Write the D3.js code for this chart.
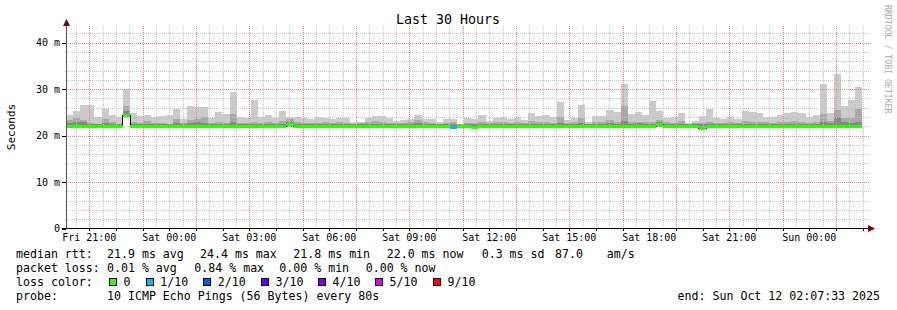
<!DOCTYPE html>
<html>
<head>
<meta charset="utf-8">
<script src="https://cdn.jsdelivr.net/npm/d3@7"></script>
<style>
  body { margin: 0; background: #fff; }
  svg { display: block; font-family: "DejaVu Sans Mono", monospace; }
</style>
</head>
<body>
<svg id="chart" width="897" height="310"></svg>
<script>
// ---- data (values in ms) ----
const endTime = new Date(2025, 9, 12, 2, 7, 33);
const stepSec = 960; // 16 min consolidated bins

const maxPing = [
  24.5, 25.3, 26.6, 26.6, 24.1, 25.7, 24.4, 23.9, 30.0, 24.8,
  24.2, 24.4, 23.9, 24.2, 24.4, 25.8, 23.5, 26.4, 26.2, 26.2,
  23.8, 25.0, 24.6, 29.4, 24.1, 23.8, 27.7, 23.9, 24.4, 23.8,
  25.3, 24.0, 23.9, 23.8, 23.5, 24.0, 23.7, 23.6, 23.7, 23.8,
  23.0, 23.0, 23.8, 24.2, 24.2, 23.8, 23.2, 23.4, 23.6, 24.4,
  23.6, 23.6, 23.0, 23.6, 23.6, 22.5, 23.8, 23.5, 24.4, 23.1,
  23.8, 24.0, 23.6, 23.8, 23.3, 24.8, 24.2, 24.4, 24.0, 27.2,
  23.3, 23.8, 26.6, 22.9, 24.3, 24.3, 25.5, 25.1, 31.1, 24.6,
  25.0, 24.4, 27.4, 25.3, 23.8, 24.0, 24.8, 22.8, 23.1, 24.2,
  25.7, 23.8, 23.5, 24.0, 23.5, 25.3, 25.1, 24.8, 24.0, 24.0,
  24.4, 24.9, 25.0, 24.9, 24.0, 24.4, 31.1, 24.9, 33.2, 26.3,
  27.6, 30.4
];
const upperPing = [
  23.4, 23.8, 23.4, 22.8, 22.6, 23.6, 23.0, 22.6, 26.4, 23.0,
  22.8, 23.2, 22.8, 22.8, 22.6, 23.6, 22.8, 23.4, 23.6, 23.9,
  22.8, 22.9, 22.8, 24.6, 22.8, 22.7, 23.0, 22.7, 22.9, 22.8,
  23.2, 23.6, 22.9, 22.8, 22.8, 22.7, 22.9, 22.8, 22.9, 22.8,
  22.6, 22.7, 23.0, 23.1, 23.0, 22.8, 22.7, 22.8, 22.9, 23.3,
  22.9, 22.8, 22.6, 22.8, 23.0, 22.4, 22.8, 22.7, 23.0, 22.7,
  22.9, 22.9, 22.8, 22.9, 22.7, 23.1, 22.9, 23.0, 22.8, 23.9,
  22.8, 22.9, 23.8, 22.6, 23.0, 23.0, 23.4, 23.0, 26.3, 23.0,
  23.0, 22.9, 23.0, 23.3, 22.9, 22.8, 23.1, 22.6, 22.7, 22.8,
  23.0, 22.8, 22.7, 22.9, 22.7, 23.1, 23.0, 22.9, 22.9, 22.8,
  22.9, 23.0, 23.1, 23.0, 22.8, 23.0, 24.6, 23.2, 25.5, 23.8,
  23.8, 25.7
];
const innerPing = [
  22.8, 23.0, 23.0, 22.5, 22.4, 22.8, 22.6, 22.4, 25.3, 22.6,
  22.5, 22.6, 22.5, 22.5, 22.4, 22.8, 22.5, 22.7, 22.9, 22.8,
  22.5, 22.6, 22.5, 22.9, 22.5, 22.4, 22.6, 22.4, 22.5, 22.5,
  22.6, 22.9, 22.5, 22.5, 22.4, 22.4, 22.5, 22.5, 22.5, 22.4,
  22.4, 22.4, 22.5, 22.6, 22.6, 22.5, 22.4, 22.5, 22.5, 22.8,
  22.5, 22.5, 22.4, 22.5, 22.6, 22.3, 22.5, 22.4, 22.6, 22.4,
  22.5, 22.5, 22.5, 22.5, 22.4, 22.6, 22.5, 22.6, 22.5, 22.8,
  22.5, 22.5, 22.7, 22.4, 22.6, 22.6, 22.7, 22.6, 23.2, 22.6,
  22.7, 22.5, 22.6, 22.9, 22.5, 22.5, 22.6, 22.4, 22.4, 22.5,
  22.6, 22.5, 22.4, 22.5, 22.4, 22.6, 22.6, 22.5, 22.5, 22.5,
  22.5, 22.6, 22.6, 22.6, 22.5, 22.6, 23.0, 22.7, 23.9, 22.9,
  22.8, 23.0
];
const minPing = [
  21.7, 21.7, 21.7, 21.7, 21.7, 21.7, 21.7, 21.7, 24.2, 21.7,
  21.7, 21.7, 21.7, 21.7, 21.7, 21.7, 21.7, 21.7, 21.7, 21.7,
  21.7, 21.7, 21.7, 21.7, 21.7, 21.7, 21.7, 21.7, 21.7, 21.7,
  21.7, 21.8, 21.7, 21.7, 21.7, 21.7, 21.7, 21.7, 21.7, 21.7,
  21.7, 21.7, 21.7, 21.7, 21.7, 21.7, 21.7, 21.7, 21.7, 21.7,
  21.7, 21.7, 21.7, 21.7, 21.7, 21.7, 21.7, 21.6, 21.7, 21.7,
  21.7, 21.7, 21.7, 21.7, 21.7, 21.7, 21.7, 21.7, 21.7, 21.7,
  21.7, 21.7, 21.7, 21.7, 21.7, 21.7, 21.7, 21.7, 21.7, 21.7,
  21.7, 21.7, 21.7, 21.8, 21.7, 21.7, 21.7, 21.7, 21.7, 21.6,
  21.7, 21.7, 21.7, 21.7, 21.7, 21.7, 21.7, 21.7, 21.7, 21.7,
  21.7, 21.7, 21.7, 21.7, 21.7, 21.7, 21.7, 21.7, 21.7, 21.7,
  21.7, 21.7
];
const medianPing = [
  22.0, 22.0, 22.0, 22.0, 22.0, 22.0, 22.0, 22.0, 24.5, 22.0,
  22.0, 22.0, 22.0, 22.0, 22.0, 22.0, 22.0, 22.0, 22.0, 22.0,
  22.0, 22.0, 22.0, 22.0, 22.0, 22.0, 22.0, 22.0, 22.0, 22.0,
  22.0, 22.6, 22.0, 22.0, 22.0, 22.0, 22.0, 22.0, 22.0, 22.0,
  22.0, 22.0, 22.0, 22.0, 22.0, 22.0, 22.0, 22.0, 22.0, 22.0,
  22.0, 22.0, 22.0, 22.0, 21.9, 22.0, 22.0, 21.8, 22.0, 22.0,
  22.0, 22.0, 22.0, 22.0, 22.0, 22.0, 22.0, 22.0, 22.0, 22.0,
  22.0, 22.0, 22.0, 22.0, 22.0, 22.0, 22.0, 22.0, 22.0, 22.0,
  22.0, 22.0, 22.0, 22.5, 22.0, 22.0, 22.0, 22.0, 22.0, 21.7,
  22.0, 22.0, 22.0, 22.0, 22.0, 22.0, 22.0, 22.0, 22.0, 22.0,
  22.0, 22.0, 22.0, 22.0, 22.0, 22.0, 22.0, 22.0, 22.0, 22.0,
  22.0, 22.0
];
// lost pings out of 10 per bin
const lossCount = [
  0, 0, 0, 0, 0, 0, 0, 0, 0, 0, 0, 0, 0, 0, 0, 0, 0, 0, 0, 0,
  0, 0, 0, 0, 0, 0, 0, 0, 0, 0, 0, 0, 0, 0, 0, 0, 0, 0, 0, 0,
  0, 0, 0, 0, 0, 0, 0, 0, 0, 0, 0, 0, 0, 0, 1, 0, 0, 0, 0, 0,
  0, 0, 0, 0, 0, 0, 0, 0, 0, 0, 0, 0, 0, 0, 0, 0, 0, 0, 0, 0,
  0, 0, 0, 0, 0, 0, 0, 0, 0, 0, 0, 0, 0, 0, 0, 0, 0, 0, 0, 0,
  0, 0, 0, 0, 0, 0, 0, 0, 0, 0, 0, 0
];

const yMajorTicks = [0, 10, 20, 30, 40];
const lossLabels = ["0", "1/10", "2/10", "3/10", "4/10", "5/10", "9/10"];
const lossColors = ["#26ff00", "#00b8ff", "#0059ff", "#5e00ff", "#7e00ff", "#dd00ff", "#ff0000"];
const rttStats = ["21.9 ms avg", "24.4 ms max", "21.8 ms min", "22.0 ms now", "0.3 ms sd", "87.0", "am/s"];
const lossStats = ["0.01 % avg", "0.84 % max", "0.00 % min", "0.00 % now"];
const probeText = "10 ICMP Echo Pings (56 Bytes) every 80s";

// ---- layout ----
const plot = { left: 66, right: 866, top: 26, bottom: 228 };
const startTime = d3.timeHour.offset(endTime, -30);
const HOUR = 3600000;
const firstHour = d3.timeHour.ceil(startTime); // Fri 21:00

const x = d3.scaleTime().domain([startTime, endTime]).range([plot.left, plot.right]);
const y = d3.scaleLinear().domain([0, 43.6]).range([228.5, plot.top]);
const px = v => Math.round(v);

const svg = d3.select("#chart");
svg.append("rect").attr("width", 897).attr("height", 310).attr("fill", "#fff");

// bins as step data, with one closing point at the end
const bins = maxPing.map((v, i) => ({
  t: d3.timeSecond.offset(startTime, i * stepSec),
  max: v, upper: upperPing[i], inner: innerPing[i], min: minPing[i],
  median: medianPing[i], loss: lossCount[i]
}));
const last = bins[bins.length - 1];
const stepPts = bins.concat([{ ...last, t: d3.timeSecond.offset(last.t, stepSec) }]);

// smoke
const smoke = svg.append("g").attr("shape-rendering", "crispEdges");
const bands = [["max", "#cbcbcb"], ["upper", "#a9a9a9"], ["inner", "#868686"]];
bands.forEach(([key, color]) => {
  smoke.append("path")
    .datum(stepPts)
    .attr("fill", color)
    .attr("d", d3.area().curve(d3.curveStepAfter)
      .x(d => x(d.t)).y0(d => y(d.min)).y1(d => y(d[key])));
});

// dotted grid, built from 1px dot patterns (drawn over the smoke, like rrdtool)
const defs = svg.append("defs");
[["dotV-grey", "#c4c4c4", 1, 2], ["dotV-red", "#f28282", 1, 2],
 ["dotH-grey", "#c4c4c4", 2, 1], ["dotH-red", "#f28282", 2, 1]].forEach(([id, c, w, h]) => {
  const p = defs.append("pattern").attr("id", id).attr("patternUnits", "userSpaceOnUse")
    .attr("width", w).attr("height", h);
  p.append("rect").attr("width", 1).attr("height", 1).attr("fill", c);
});

const grid = svg.append("g").attr("shape-rendering", "crispEdges");
const minorTimes = d3.range(-2, 62).map(k => new Date(+firstHour + k * HOUR / 2))
  .filter(t => t > startTime && t < endTime);
const majorTimes = d3.range(0, 30, 2).map(k => new Date(+firstHour + k * HOUR))
  .filter(t => t < endTime);
const isMajor = t => majorTimes.some(m => +m === +t);

const vLine = (t, id) => grid.append("rect")
  .attr("x", px(x(t))).attr("y", plot.top).attr("width", 1)
  .attr("height", plot.bottom - plot.top).attr("fill", `url(#${id})`);
const hLine = (v, id) => grid.append("rect")
  .attr("x", plot.left).attr("y", px(y(v))).attr("width", plot.right + 3 - plot.left)
  .attr("height", 1).attr("fill", `url(#${id})`);

minorTimes.filter(t => !isMajor(t)).forEach(t => vLine(t, "dotV-grey"));
d3.range(2, 44, 2).filter(v => v % 10 !== 0).forEach(v => hLine(v, "dotH-grey"));
majorTimes.forEach(t => vLine(t, "dotV-red"));
yMajorTicks.filter(v => v > 0).forEach(v => hLine(v, "dotH-red"));

// median line and loss colored band
svg.append("path")
  .datum(stepPts)
  .attr("fill", "none").attr("stroke", "#000").attr("stroke-width", 1)
  .attr("shape-rendering", "crispEdges")
  .attr("d", d3.line().curve(d3.curveStepAfter).x(d => x(d.t)).y(d => px(y(d.median)) + 0.5));

const lossColor = d3.scaleThreshold().domain([1, 2, 3, 4, 5, 6]).range(lossColors);
svg.append("g").attr("shape-rendering", "crispEdges")
  .selectAll("rect").data(bins).join("rect")
  .attr("x", d => x(d.t))
  .attr("width", d => x(d3.timeSecond.offset(d.t, stepSec)) - x(d.t))
  .attr("y", d => px(y(d.median)) - 1)
  .attr("height", 3)
  .attr("fill", d => lossColor(d.loss));

// axes
const axes = svg.append("g").attr("shape-rendering", "crispEdges");
axes.append("line").attr("x1", 66.5).attr("x2", 66.5).attr("y1", 24).attr("y2", 229)
  .attr("stroke", "#555");
axes.append("line").attr("x1", 62).attr("x2", 868).attr("y1", 228.5).attr("y2", 228.5)
  .attr("stroke", "#000");
yMajorTicks.forEach(v => {
  axes.append("line").attr("x1", 62).attr("x2", 66).attr("y1", px(y(v)) + 0.5).attr("y2", px(y(v)) + 0.5)
    .attr("stroke", "#000");
});
d3.range(0, 30).map(k => new Date(+firstHour + k * HOUR)).filter(t => t < endTime).forEach(t => {
  axes.append("line").attr("x1", px(x(t)) + 0.5).attr("x2", px(x(t)) + 0.5)
    .attr("y1", 229).attr("y2", 231).attr("stroke", "#000");
});
svg.append("path").attr("d", "M63,26 L70,26 L66.5,19 Z").attr("fill", "#7f0000");
svg.append("path").attr("d", "M868,225 L868,232 L875,228.5 Z").attr("fill", "#7f0000");

// tick labels
svg.append("g").selectAll("text").data(yMajorTicks).join("text")
  .attr("x", 60).attr("y", d => y(d) + 3.5)
  .attr("text-anchor", "end").attr("font-size", 10).attr("fill", "#000")
  .text(d => d === 0 ? "0" : d + " m");

const fmt = d3.timeFormat("%a %H:%M");
const labelTimes = d3.range(0, 30, 3).map(k => new Date(+firstHour + k * HOUR))
  .filter(t => t < endTime);
svg.append("g").selectAll("text").data(labelTimes).join("text")
  .attr("x", d => x(d)).attr("y", 241)
  .attr("text-anchor", "middle").attr("font-size", 10).attr("fill", "#000")
  .text(d => fmt(d));

// title and side texts
svg.append("text").attr("x", 448).attr("y", 24).attr("text-anchor", "middle")
  .attr("font-size", 13.3).text("Last 30 Hours");
svg.append("text").attr("transform", "translate(15,127) rotate(-90)")
  .attr("text-anchor", "middle").attr("font-size", 11).text("Seconds");
svg.append("text").attr("transform", "translate(885,5) rotate(90)")
  .attr("font-size", 8.2).attr("fill", "#aaa").text("RRDTOOL / TOBI OETIKER");

// legend
const legend = svg.append("g").attr("font-size", 11.6).attr("fill", "#000")
  .style("white-space", "pre");
const put = (txt, lx, ly, anchor) => legend.append("text")
  .attr("x", lx).attr("y", ly).attr("text-anchor", anchor || "start").text(txt);

put("median rtt:", 16, 258);
[107, 200, 293.3, 386.7, 481.7, 555, 606.7].forEach((lx, i) => put(rttStats[i], lx, 258));

put("packet loss:", 16, 272);
[107, 194.3, 279.3, 365.7].forEach((lx, i) => put(lossStats[i], lx, 272));

put("loss color:", 16, 286);
[109, 145.7, 203.3, 261, 318, 375, 433].forEach((lx, i) => {
  legend.append("rect").attr("x", Math.round(lx) + 0.5).attr("y", 278.5).attr("width", 7).attr("height", 7)
    .attr("fill", lossColors[i]).attr("stroke", "#000").attr("stroke-width", 1)
    .attr("shape-rendering", "crispEdges");
  put(lossLabels[i], lx + 14.5, 286);
});

put("probe:", 16, 300);
put(probeText, 107, 300);
put("end: " + d3.timeFormat("%a %b %d %H:%M:%S %Y")(endTime), 880, 300, "end");
</script>
</body>
</html>
